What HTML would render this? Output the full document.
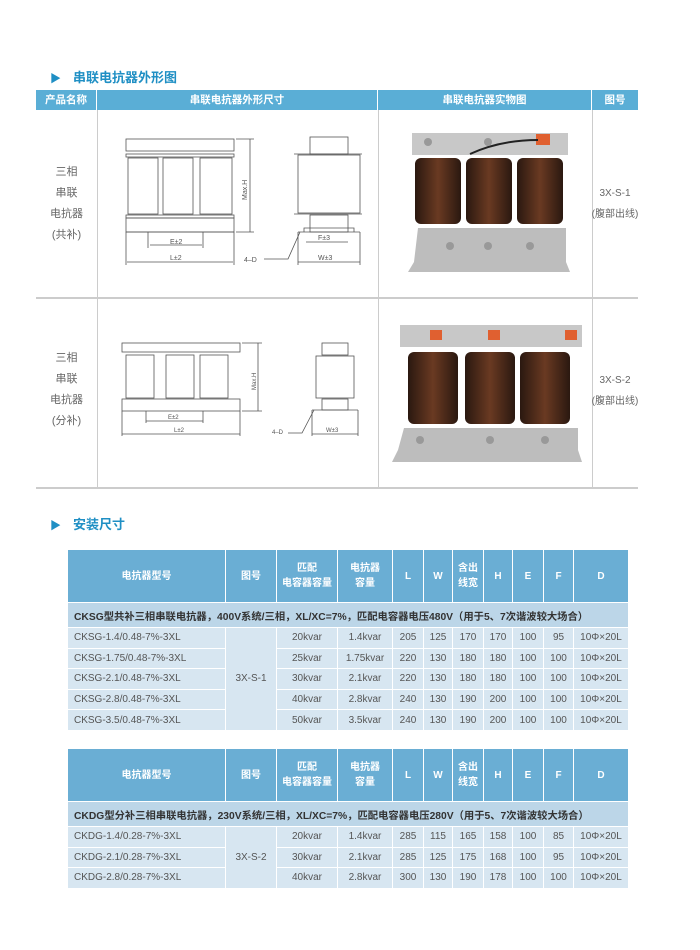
<!DOCTYPE html>
<html><head><meta charset="utf-8">
<style>
*{margin:0;padding:0;box-sizing:border-box}
body{width:700px;height:950px;background:#fff;position:relative;font-family:"Liberation Sans","Noto Sans CJK SC",sans-serif;overflow:hidden;color:#555}
.abs{position:absolute}
.title{position:absolute;font-size:13px;font-weight:bold;color:#1f8fc4;}
.title span{color:#1f8fc4;font-size:11px;margin-right:12px}
.hb{position:absolute;top:90px;height:20px;background:#5aaed6;color:#fff;font-size:10.5px;font-weight:bold;text-align:center;line-height:20px;border-right:1px solid #fff}
.vl{position:absolute;width:1px;background:#ccc}
.hl{position:absolute;height:2px;background:#ccc}
.nm{position:absolute;text-align:center;font-size:11px;color:#666;line-height:21px;white-space:nowrap}
table{position:absolute;left:67px;width:561px;border-collapse:collapse;table-layout:fixed;font-size:10px;color:#555}
td{border:1px solid #fff;text-align:center;padding:0;white-space:nowrap}
tr.h td{background:#6aaed4;color:#fff;font-weight:bold;height:53px;line-height:15px}
tr.s td{background:#bcd6e8;color:#333;font-weight:bold;height:25px;text-align:left;padding-left:6px;font-size:10.3px}
tr.r td{background:#d7e6f1;height:20.6px}
td.l{text-align:left;padding-left:6px}
</style></head><body>
<div class="title" style="left:50px;top:67px"><span>▶</span>串联电抗器外形图</div>
<div class="hb" style="left:36px;width:61px">产品名称</div>
<div class="hb" style="left:97px;width:281px">串联电抗器外形尺寸</div>
<div class="hb" style="left:378px;width:214px">串联电抗器实物图</div>
<div class="hb" style="left:592px;width:46px;border-right:none">图号</div>
<div class="vl" style="left:97px;top:110px;height:378px"></div>
<div class="vl" style="left:378px;top:110px;height:378px"></div>
<div class="vl" style="left:592px;top:110px;height:378px"></div>
<div class="hl" style="left:36px;top:297px;width:602px"></div>
<div class="hl" style="left:36px;top:487px;width:602px"></div>
<div class="nm" style="left:36px;top:162px;width:61px">三相<br>串联<br>电抗器<br>(共补)</div>
<div class="nm" style="left:36px;top:348px;width:61px">三相<br>串联<br>电抗器<br>(分补)</div>
<div class="nm" style="left:585px;top:183px;width:60px;font-size:10px">3X-S-1<br>(腹部出线)</div>
<div class="nm" style="left:585px;top:370px;width:60px;font-size:10px">3X-S-2<br>(腹部出线)</div>

<svg class="abs" style="left:0;top:0" width="700" height="500" fill="none" stroke="#555" stroke-width="0.8" font-family="Liberation Sans" font-size="7">
<rect x="126" y="139" width="108" height="12"/>
<rect x="126" y="154" width="108" height="3"/>
<rect x="128" y="158" width="30" height="56"/><rect x="163" y="158" width="30" height="56"/><rect x="200" y="158" width="32" height="56"/>
<rect x="126" y="215" width="108" height="3"/>
<rect x="126" y="218" width="108" height="14"/>
<line x1="126" y1="232" x2="234" y2="232"/>
<line x1="148" y1="232" x2="148" y2="248"/><line x1="203" y1="232" x2="203" y2="248"/>
<line x1="150" y1="245" x2="202" y2="245"/><text x="170" y="244" fill="#555" stroke="none">E±2</text>
<line x1="126" y1="232" x2="126" y2="265"/><line x1="234" y1="232" x2="234" y2="265"/>
<line x1="127" y1="262" x2="233" y2="262"/><text x="170" y="260" fill="#555" stroke="none">L±2</text>
<line x1="236" y1="139" x2="254" y2="139"/><line x1="236" y1="232" x2="254" y2="232"/><line x1="250" y1="139" x2="250" y2="232"/>
<text x="0" y="0" fill="#555" stroke="none" transform="translate(247,200) rotate(-90)">Max.H</text>
<rect x="310" y="137" width="38" height="17"/><rect x="298" y="155" width="62" height="58"/>
<rect x="310" y="215" width="38" height="17"/><line x1="294" y1="154" x2="362" y2="154"/><line x1="294" y1="214" x2="362" y2="214"/>
<path d="M298 232 H360 M298 232 v6 M360 232 v6 M304 232 v-4 H354 v4"/>
<line x1="306" y1="242" x2="348" y2="242"/><text x="318" y="240" fill="#555" stroke="none">F±3</text>
<line x1="298" y1="238" x2="298" y2="265"/><line x1="360" y1="238" x2="360" y2="265"/>
<line x1="298" y1="262" x2="360" y2="262"/><text x="318" y="260" fill="#555" stroke="none">W±3</text>
<path d="M264 259 H288 L300 232"/><text x="244" y="262" fill="#555" stroke="none">4–D</text>
<rect x="122" y="343" width="118" height="9"/>
<rect x="126" y="355" width="28" height="43"/><rect x="166" y="355" width="28" height="43"/><rect x="200" y="355" width="28" height="43"/>
<rect x="122" y="399" width="118" height="12"/>
<line x1="146" y1="411" x2="146" y2="423"/><line x1="203" y1="411" x2="203" y2="423"/>
<line x1="146" y1="421" x2="203" y2="421"/><text x="168" y="419" fill="#555" stroke="none" font-size="6">E±2</text>
<line x1="122" y1="411" x2="122" y2="436"/><line x1="240" y1="411" x2="240" y2="436"/>
<line x1="122" y1="434" x2="240" y2="434"/><text x="174" y="432" fill="#555" stroke="none" font-size="6">L±2</text>
<line x1="242" y1="343" x2="262" y2="343"/><line x1="242" y1="411" x2="262" y2="411"/><line x1="258" y1="343" x2="258" y2="411"/>
<text x="0" y="0" fill="#555" stroke="none" font-size="6" transform="translate(256,390) rotate(-90)">Max.H</text>
<rect x="322" y="343" width="26" height="12"/><rect x="316" y="356" width="38" height="42"/><rect x="322" y="399" width="26" height="11"/>
<path d="M312 410 H358"/>
<line x1="312" y1="410" x2="312" y2="436"/><line x1="358" y1="410" x2="358" y2="436"/>
<line x1="312" y1="434" x2="358" y2="434"/><text x="326" y="432" fill="#555" stroke="none" font-size="6">W±3</text>
<path d="M288 433 H302 L314 410"/><text x="272" y="434" fill="#555" stroke="none" font-size="6">4–D</text>
</svg>

<svg class="abs" style="left:0;top:0" width="700" height="500">
<defs><linearGradient id="c" x1="0" x2="1"><stop offset="0" stop-color="#2a1810"/><stop offset=".5" stop-color="#6a3a22"/><stop offset="1" stop-color="#2a1810"/></linearGradient></defs>
<rect x="412" y="133" width="156" height="22" fill="#c8c8c8"/>
<rect x="415" y="158" width="46" height="66" rx="6" fill="url(#c)"/>
<rect x="466" y="158" width="46" height="66" rx="6" fill="url(#c)"/>
<rect x="517" y="158" width="46" height="66" rx="6" fill="url(#c)"/>
<path d="M418 228 H566 V262 L570 272 H408 L414 262 Z" fill="#bdbdbd"/>
<rect x="536" y="134" width="14" height="11" fill="#e06030"/>
<path d="M470 154 Q500 140 538 140" stroke="#222" stroke-width="2" fill="none"/>
<circle cx="428" cy="142" r="4" fill="#999"/><circle cx="488" cy="142" r="4" fill="#999"/><circle cx="450" cy="246" r="4" fill="#999"/><circle cx="488" cy="246" r="4" fill="#999"/><circle cx="530" cy="246" r="4" fill="#999"/>
<rect x="400" y="325" width="182" height="22" fill="#c8c8c8"/>
<rect x="408" y="352" width="50" height="72" rx="6" fill="url(#c)"/>
<rect x="465" y="352" width="50" height="72" rx="6" fill="url(#c)"/>
<rect x="520" y="352" width="50" height="72" rx="6" fill="url(#c)"/>
<path d="M404 428 H578 V450 L582 462 H392 L398 450 Z" fill="#bdbdbd"/>
<rect x="430" y="330" width="12" height="10" fill="#e06030"/><rect x="488" y="330" width="12" height="10" fill="#e06030"/><rect x="565" y="330" width="12" height="10" fill="#e06030"/>
<circle cx="420" cy="440" r="4" fill="#999"/><circle cx="490" cy="440" r="4" fill="#999"/><circle cx="545" cy="440" r="4" fill="#999"/>
</svg>

<div class="title" style="left:50px;top:514px"><span>▶</span>安装尺寸</div>

<table style="top:549px">
<colgroup><col style="width:158px"><col style="width:51px"><col style="width:61px"><col style="width:55px"><col style="width:31px"><col style="width:29px"><col style="width:31px"><col style="width:29px"><col style="width:31px"><col style="width:30px"><col style="width:55px"></colgroup>
<tr class="h"><td>电抗器型号</td><td>图号</td><td>匹配<br>电容器容量</td><td>电抗器<br>容量</td><td>L</td><td>W</td><td>含出<br>线宽</td><td>H</td><td>E</td><td>F</td><td>D</td></tr>
<tr class="s"><td colspan="11">CKSG型共补三相串联电抗器，400V系统/三相，XL/XC=7%，匹配电容器电压480V（用于5、7次谐波较大场合）</td></tr>
<tr class="r"><td class="l">CKSG-1.4/0.48-7%-3XL</td><td rowspan="5">3X-S-1</td><td>20kvar</td><td>1.4kvar</td><td>205</td><td>125</td><td>170</td><td>170</td><td>100</td><td>95</td><td>10Φ×20L</td></tr>
<tr class="r"><td class="l">CKSG-1.75/0.48-7%-3XL</td><td>25kvar</td><td>1.75kvar</td><td>220</td><td>130</td><td>180</td><td>180</td><td>100</td><td>100</td><td>10Φ×20L</td></tr>
<tr class="r"><td class="l">CKSG-2.1/0.48-7%-3XL</td><td>30kvar</td><td>2.1kvar</td><td>220</td><td>130</td><td>180</td><td>180</td><td>100</td><td>100</td><td>10Φ×20L</td></tr>
<tr class="r"><td class="l">CKSG-2.8/0.48-7%-3XL</td><td>40kvar</td><td>2.8kvar</td><td>240</td><td>130</td><td>190</td><td>200</td><td>100</td><td>100</td><td>10Φ×20L</td></tr>
<tr class="r"><td class="l">CKSG-3.5/0.48-7%-3XL</td><td>50kvar</td><td>3.5kvar</td><td>240</td><td>130</td><td>190</td><td>200</td><td>100</td><td>100</td><td>10Φ×20L</td></tr>
</table>

<table style="top:748px">
<colgroup><col style="width:158px"><col style="width:51px"><col style="width:61px"><col style="width:55px"><col style="width:31px"><col style="width:29px"><col style="width:31px"><col style="width:29px"><col style="width:31px"><col style="width:30px"><col style="width:55px"></colgroup>
<tr class="h"><td>电抗器型号</td><td>图号</td><td>匹配<br>电容器容量</td><td>电抗器<br>容量</td><td>L</td><td>W</td><td>含出<br>线宽</td><td>H</td><td>E</td><td>F</td><td>D</td></tr>
<tr class="s"><td colspan="11">CKDG型分补三相串联电抗器，230V系统/三相，XL/XC=7%，匹配电容器电压280V（用于5、7次谐波较大场合）</td></tr>
<tr class="r"><td class="l">CKDG-1.4/0.28-7%-3XL</td><td rowspan="3">3X-S-2</td><td>20kvar</td><td>1.4kvar</td><td>285</td><td>115</td><td>165</td><td>158</td><td>100</td><td>85</td><td>10Φ×20L</td></tr>
<tr class="r"><td class="l">CKDG-2.1/0.28-7%-3XL</td><td>30kvar</td><td>2.1kvar</td><td>285</td><td>125</td><td>175</td><td>168</td><td>100</td><td>95</td><td>10Φ×20L</td></tr>
<tr class="r"><td class="l">CKDG-2.8/0.28-7%-3XL</td><td>40kvar</td><td>2.8kvar</td><td>300</td><td>130</td><td>190</td><td>178</td><td>100</td><td>100</td><td>10Φ×20L</td></tr>
</table>
</body></html>
